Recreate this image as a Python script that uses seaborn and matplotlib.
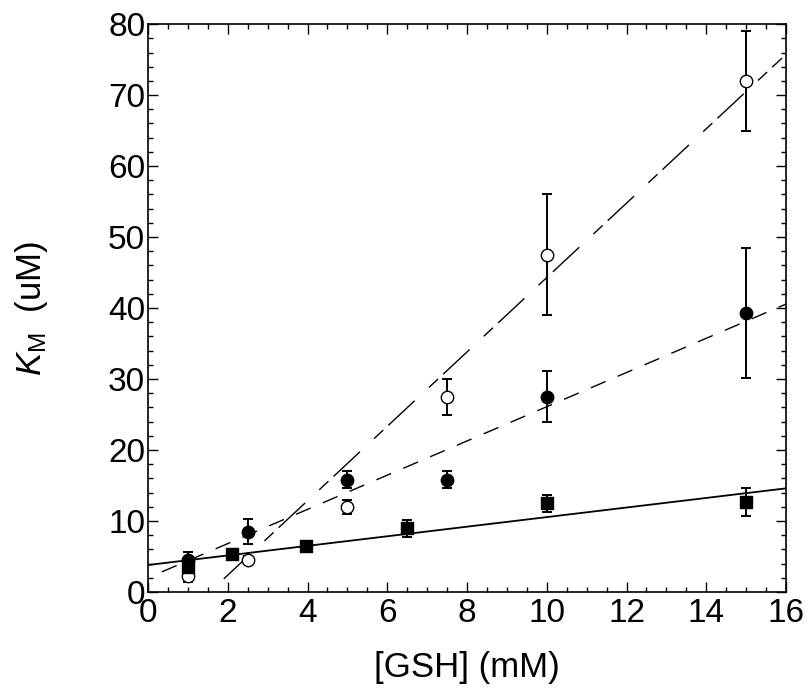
# Km vs [GSH] with linear fits for three data sets

import numpy as np
import pandas as pd
import seaborn as sns
import matplotlib.pyplot as plt
from matplotlib.ticker import MultipleLocator

# open circles
gsh_open = [1, 2.5, 5, 7.5, 10, 15]
km_open = [2.2, 4.5, 12.0, 27.5, 47.5, 72.0]
err_open = [0.8, 0.6, 1.0, 2.5, 8.5, 7.0]

# filled circles
gsh_fill = [1, 2.5, 5, 7.5, 10, 15]
km_fill = [4.5, 8.5, 15.8, 15.8, 27.5, 39.3]
err_fill = [1.2, 1.8, 1.2, 1.2, 3.6, 9.2]

# filled squares
gsh_sq = [1, 2.1, 3.95, 6.5, 10, 15]
km_sq = [3.5, 5.3, 6.5, 9.0, 12.5, 12.7]
err_sq = [1.0, 0.4, 0.4, 1.2, 1.2, 2.0]

# fitted lines: slope, intercept, x range
fit_open = (5.24, -8.1, 1.9, 15.9)
fit_fill = (2.41, 2.0, 0.35, 16.0)
fit_sq = (0.675, 3.8, 0.0, 16.0)

sns.set_style('ticks')
plt.rcParams['font.family'] = ['Liberation Sans', 'DejaVu Sans']
plt.rcParams['mathtext.fontset'] = 'custom'
plt.rcParams['mathtext.rm'] = 'Liberation Sans'
plt.rcParams['mathtext.it'] = 'Liberation Sans:italic'
plt.rcParams['text.color'] = 'black'
plt.rcParams['axes.labelcolor'] = 'black'
plt.rcParams['xtick.color'] = 'black'
plt.rcParams['ytick.color'] = 'black'

fig = plt.figure(figsize=(8.09, 6.89), dpi=100)
ax = fig.add_axes([0.183, 0.1408, 0.7886, 0.8242])


def fit_line(fit, dashes):
    slope, icpt, x0, x1 = fit
    xs = np.array([x0, x1])
    df = pd.DataFrame({'x': xs, 'y': slope * xs + icpt})
    sns.lineplot(data=df, x='x', y='y', ax=ax, color='black', lw=1.0)
    ln = ax.lines[-1]
    if dashes:
        ln.set_dashes(dashes)


fit_line(fit_open, (26, 14, 9, 5))
fit_line(fit_fill, (11.5, 9.5))
fit_line(fit_sq, None)
ax.lines[-1].set_linewidth(1.3)

for xs, ys, es, mk, fc in [(gsh_open, km_open, err_open, 'o', 'white'),
                           (gsh_fill, km_fill, err_fill, 'o', 'black'),
                           (gsh_sq, km_sq, err_sq, 's', 'black')]:
    ax.errorbar(xs, ys, yerr=es, fmt='none', ecolor='black', elinewidth=1.4,
                capsize=3.5, capthick=1.4, zorder=3)
    sns.scatterplot(x=xs, y=ys, ax=ax, marker=mk, s=80, color=fc,
                    edgecolor='black', linewidth=1.0, zorder=4)

ax.set_xlim(0, 16)
ax.set_ylim(0, 80)
ax.xaxis.set_major_locator(MultipleLocator(2))
ax.xaxis.set_minor_locator(MultipleLocator(0.5))
ax.yaxis.set_major_locator(MultipleLocator(10))
ax.yaxis.set_minor_locator(MultipleLocator(2))
ax.tick_params(which='both', direction='in', top=True, right=True,
               color='black', width=1.0)
ax.tick_params(which='major', length=7, labelsize=24)
ax.tick_params(axis='x', which='major', pad=4)
ax.tick_params(axis='y', which='major', pad=2)
ax.tick_params(which='minor', length=3.5)
for sp in ax.spines.values():
    sp.set_linewidth(1.2)
    sp.set_color('black')

ax.set_xlabel('[GSH] (mM)', fontsize=25, labelpad=16)
ax.set_ylabel(r'$\mathit{K}_\mathrm{M}$  (uM)', fontsize=25, labelpad=42)

fig.savefig('out.png', dpi=100)
